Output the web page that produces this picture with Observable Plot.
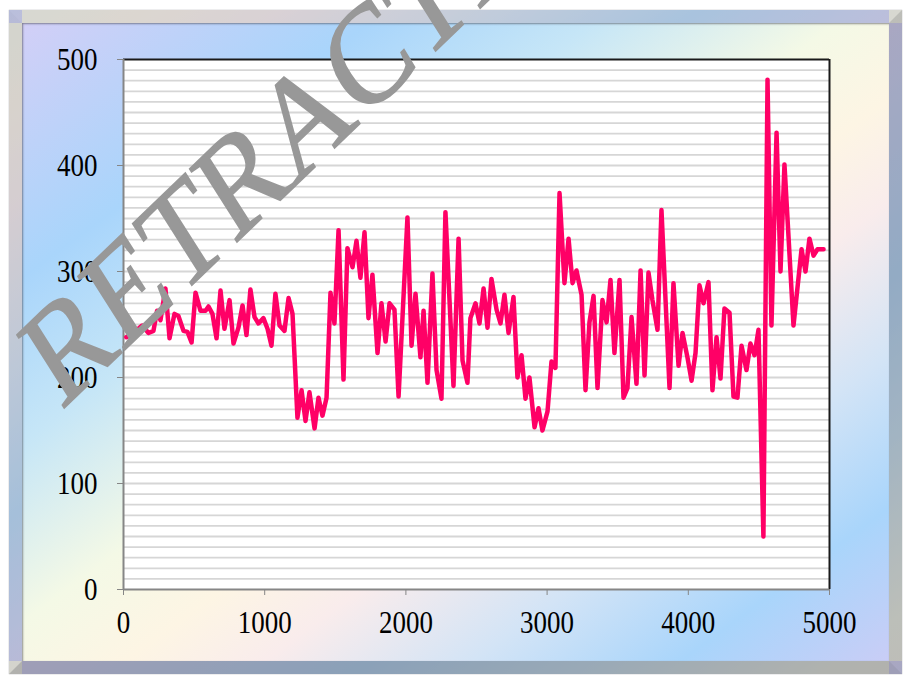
<!DOCTYPE html>
<html>
<head>
<meta charset="utf-8">
<script src="https://cdn.jsdelivr.net/npm/d3@7"></script>
<script src="https://cdn.jsdelivr.net/npm/@observablehq/plot@0.6"></script>
<style>
  html, body { margin: 0; padding: 0; background: #fff; }
  #wrap { position: relative; width: 909px; height: 680px; overflow: hidden; background: #fff; }
  #frame {
    position: absolute; left: 9px; top: 10px; width: 893px; height: 664px; box-sizing: border-box;
    background: linear-gradient(to bottom right, #d2cff7 0%, #a9d5fb 20%, #c6e6f7 33%, #f4f9e6 47%, #fdf5e4 56%, #f9ecec 64%, #d3e4f6 76%, #a9d5fb 88%, #c9cdf6 100%);
    border: 13px solid;
    border-color: rgba(170,170,180,0.4) rgba(120,120,130,0.45) rgba(110,110,120,0.5) rgba(160,160,170,0.4);
    box-shadow: inset 1px 1px 2px rgba(60,60,70,0.55), 0 0 1px rgba(80,80,90,0.6);
  }
  #chart { position: absolute; left: 0; top: 0; }
  #chart svg text { font-family: 'Liberation Serif', 'Times New Roman', serif; }
</style>
</head>
<body>
<div id="wrap">
  <div id="frame"></div>
  <div id="chart"></div>
</div>
<script>
// ---- data ----
const xValues = [20,62,132,177,212,238,262,297,326,361,389,425,453,482,510,545,581,602,630,659,687,715,751,779,814,843,871,899,928,956,991,1020,1048,1076,1105,1140,1169,1197,1232,1261,1289,1317,1353,1381,1409,1438,1466,1494,1523,1558,1586,1622,1650,1678,1707,1735,1763,1799,1827,1856,1884,1919,1948,2011,2040,2068,2103,2125,2153,2188,2217,2252,2280,2337,2373,2401,2436,2457,2493,2521,2550,2578,2606,2642,2670,2698,2727,2762,2790,2819,2847,2875,2911,2939,2967,3003,3031,3059,3088,3123,3152,3180,3208,3244,3272,3300,3329,3357,3392,3421,3449,3477,3513,3541,3569,3598,3633,3662,3690,3718,3746,3782,3810,3867,3895,3931,3959,3994,4023,4051,4079,4108,4143,4171,4200,4228,4256,4292,4320,4348,4377,4412,4440,4469,4497,4532,4561,4589,4625,4653,4681,4745,4802,4830,4858,4887,4915,4958];
const yValues = [238,241,249,242,244,263,254,284,237,260,258,244,243,233,280,263,263,267,260,237,282,246,273,232,247,268,240,283,257,251,256,246,230,279,249,244,275,260,162,188,159,186,152,181,164,181,280,251,339,198,322,304,329,294,337,256,297,223,270,234,270,264,182,351,230,279,219,263,195,298,207,180,356,192,331,216,195,256,270,251,284,247,293,264,251,278,242,276,200,221,180,200,153,171,150,168,215,209,374,289,331,289,301,278,188,252,277,190,273,252,292,223,292,181,190,257,194,301,202,299,273,245,358,190,289,211,242,219,197,223,287,270,290,188,238,199,265,261,182,181,230,207,232,221,245,50,481,249,431,300,401,249,321,300,331,315,321,321];
const yTicks = [0,100,200,300,400,500];
const xTicks = [0,1000,2000,3000,4000,5000];
const gridValues = d3.range(10, 500, 10);
const watermark = "RETRACTED";

const data = xValues.map((x, i) => ({x, y: yValues[i]}));
const serif = "'Liberation Serif', 'Times New Roman', serif";

const chart = Plot.plot({
  width: 909,
  height: 680,
  marginLeft: 123,
  marginTop: 59,
  marginRight: 80,
  marginBottom: 91,
  x: {domain: [0, 5000]},
  y: {domain: [0, 500]},
  style: {background: "transparent", fontFamily: serif, fontSize: "27px", color: "#000"},
  marks: [
    Plot.frame({fill: "white", stroke: null}),
    Plot.ruleY(gridValues, {stroke: "#d6d6d6", strokeWidth: 1.8}),
    Plot.ruleX([5000], {stroke: "#1a1a1a", strokeWidth: 2}),
    Plot.ruleY([500], {stroke: "#1a1a1a", strokeWidth: 2}),
    Plot.ruleX([0], {stroke: "#868686", strokeWidth: 2}),
    Plot.ruleY([0], {stroke: "#868686", strokeWidth: 2}),
    Plot.axisY({ticks: yTicks, tickSize: 6, tickPadding: 20, stroke: "#868686", fill: "#000", fontSize: 27, fontFamily: serif, label: null, tickFormat: d => String(d)}),
    Plot.axisX({ticks: xTicks, tickSize: 6, tickPadding: 17, stroke: "#868686", fill: "#000", fontSize: 27, fontFamily: serif, label: null, tickFormat: d => String(d)}),
    Plot.line(data, {x: "x", y: "y", stroke: "#ff0066", strokeWidth: 4.5, strokeLinejoin: "round", strokeLinecap: "round"})
  ]
});

document.getElementById("chart").appendChild(chart);

// reference glyphs are vertically stretched: scale each tick label about its own centre
d3.select(chart).selectAll("text").each(function() {
  const r = this.getBoundingClientRect();
  const parent = this.parentNode;
  const ctm = parent.getScreenCTM();
  if (!ctm) return;
  const p = chart.createSVGPoint();
  p.x = r.x + r.width / 2;
  p.y = r.y + r.height / 2;
  const q = p.matrixTransform(ctm.inverse());
  const g = document.createElementNS("http://www.w3.org/2000/svg", "g");
  g.setAttribute("transform", `translate(${q.x},${q.y}) scale(1,1.2) translate(${-q.x},${-q.y})`);
  parent.insertBefore(g, this);
  g.appendChild(this);
});

d3.select(chart).append("text")
  .attr("transform", "translate(61,411) scale(1,1.23) rotate(-38)")
  .attr("text-anchor", "start")
  .attr("font-family", serif)
  .attr("font-size", 116)
  .attr("fill", "#989898")
  .attr("stroke", "#989898")
  .attr("stroke-width", 1.5)
  .text(watermark);
</script>
</body>
</html>
